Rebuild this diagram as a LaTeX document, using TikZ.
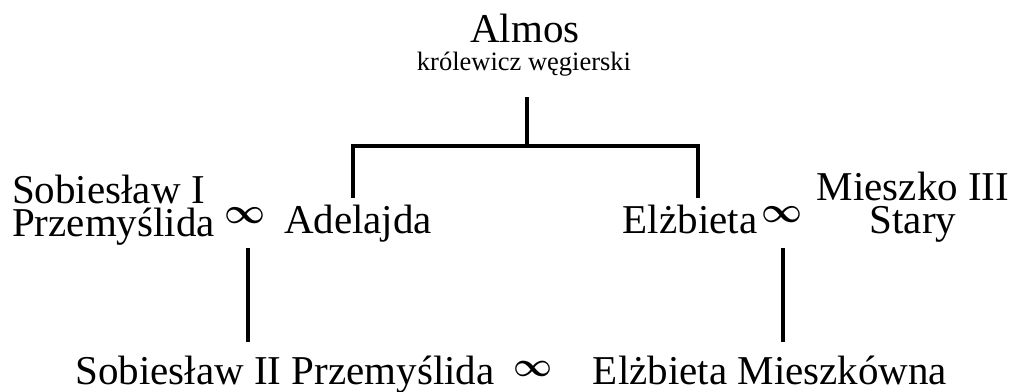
\documentclass[tikz,border=0pt]{standalone}
\usepackage{fontspec}
\setmainfont{Liberation Serif}
\newcommand{\marrsign}[1]{\resizebox{#1}{!}{\boldmath$\infty$}}
\begin{document}
\begin{tikzpicture}[x=1pt,y=-1pt,
  big/.style={inner sep=0pt, font=\fontsize{41}{33}\selectfont},
  small/.style={inner sep=0pt, font=\fontsize{26.5}{30}\selectfont},
  marr/.style={inner sep=0pt},
  link/.style={line width=3.5pt}]
\useasboundingbox (0,0) rectangle (1016,391);
% top
\node[big,anchor=base] (almos) at (525,42) {Almos};
\node[small,anchor=base] (kw) at (524,70) {królewicz węgierski};
% generation 2
\node[big,anchor=base west,align=left] (sob1) at (12,236) {Sobiesław I\\Przemyślida};
\node[marr] (m1) at (245.5,216) {\marrsign{41pt}};
\node[big,anchor=base] (adel) at (358,233) {Adelajda};
\node[big,anchor=base] (elz) at (690,233) {Elżbieta};
\node[marr] (m2) at (782,215) {\marrsign{41pt}};
\node[big,anchor=base,align=center] (mie) at (913,233) {Mieszko III\\Stary};
% generation 3
\node[big,anchor=base] (sob2) at (285,384) {Sobiesław II Przemyślida};
\node[marr] (m3) at (533,369) {\marrsign{39pt}};
\node[big,anchor=base] (elzm) at (770,384) {Elżbieta Mieszkówna};
% connector points
\coordinate (a0) at (527,97);
\coordinate (a1) at (527,146);
\coordinate (l0) at (353,146);
\coordinate (r0) at (698,146);
\coordinate (l1) at (353,198);
\coordinate (r1) at (698,198);
\coordinate (p0) at (248,248);
\coordinate (p1) at (248,342);
\coordinate (q0) at (783,248);
\coordinate (q1) at (783,342);
\draw[link] (a0) -- (a1);
\draw[link] (l1) -- (l0) -- (r0) -- (r1);
\draw[link] (p0) -- (p1);
\draw[link] (q0) -- (q1);
\end{tikzpicture}
\end{document}
